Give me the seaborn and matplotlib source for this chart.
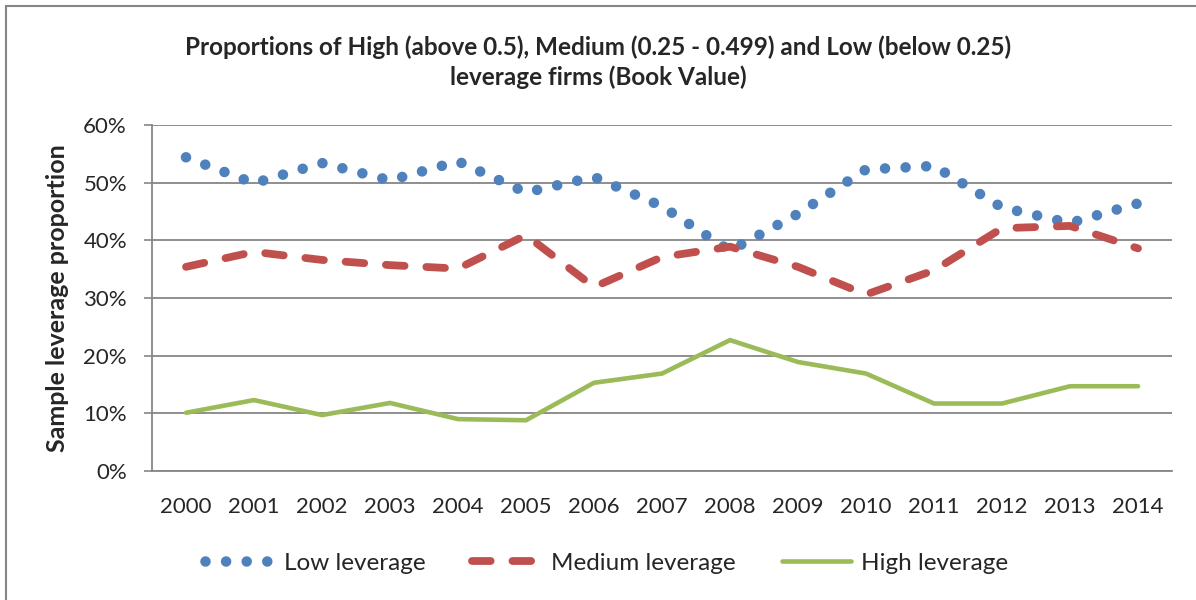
import numpy as np
import pandas as pd
import matplotlib
matplotlib.use("Agg")
import matplotlib.pyplot as plt
import matplotlib.patches as patches
import seaborn as sns

# values (percent of sample)
years = list(range(2000, 2015))
low_lev = [54.4, 49.9, 53.4, 50.4, 53.7, 48.3, 51.0, 45.9, 38.2, 44.6, 52.3, 52.9, 45.7, 43.0, 46.4]
medium_lev = [35.4, 38.0, 36.6, 35.7, 35.1, 40.9, 31.9, 37.1, 38.9, 35.4, 30.6, 34.8, 42.1, 42.5, 38.6]
high_lev = [10.1, 12.3, 9.7, 11.8, 9.0, 8.8, 15.3, 16.9, 22.7, 18.9, 16.9, 11.7, 11.7, 14.7, 14.7]
y_ticks = [0, 10, 20, 30, 40, 50, 60]

sns.set_style("white")
plt.rcParams['font.family'] = ['Lato', 'DejaVu Sans']

grey = "#868686"
fig = plt.figure(figsize=(11.96, 6.0), dpi=100)
ax = fig.add_axes([152/1196, 1 - 471/600, (1172-152)/1196, (471-125)/600])

sns.lineplot(x=years, y=low_lev, ax=ax, color="#4F81BD", lw=7.6,
             linestyle=(0, (0.001, 1.95)), dash_capstyle="round",
             label="Low leverage")
sns.lineplot(x=years, y=medium_lev, ax=ax, color="#C0504D", lw=5.6,
             linestyle=(0, (2.4, 2.8)), dash_capstyle="round",
             label="Medium leverage")
sns.lineplot(x=years, y=high_lev, ax=ax, color="#9BBB59", lw=3.3,
             solid_capstyle="round", solid_joinstyle="miter",
             label="High leverage")

ax.set_xlim(years[0] - 0.5, years[-1] + 0.5)
ax.set_ylim(0, 60)
ax.set_yticks(y_ticks)
ax.set_yticklabels([f"{v}%" for v in y_ticks], fontsize=16)
ax.set_xticks(years)
ax.set_xticklabels([str(y) for y in years], fontsize=16)
ax.set_xticks([y - 0.5 for y in years] + [years[-1] + 0.5], minor=True)
ax.tick_params(axis="x", which="major", length=0, pad=19)
ax.tick_params(axis="x", which="minor", length=7, width=1.2, color=grey)
ax.tick_params(axis="y", length=6, width=1.2, color=grey, pad=12, left=True)

ax.grid(axis="y", color=grey, lw=1.3)
ax.set_axisbelow(True)
for side in ["top", "right"]:
    ax.spines[side].set_visible(False)
for side in ["left", "bottom"]:
    ax.spines[side].set_color(grey)
    ax.spines[side].set_linewidth(1.3)

ax.set_xlabel("")
ax.set_ylabel("Sample leverage proportion", fontsize=18, fontweight="bold", labelpad=10)

fig.text(0.5, 1 - 62/600,
         "Proportions of High (above 0.5), Medium (0.25 - 0.499) and Low (below 0.25)\nleverage firms (Book Value)",
         ha="center", va="center", fontsize=17.5, fontweight="bold", linespacing=1.3)

handles, labels = ax.get_legend_handles_labels()
ax.get_legend().remove()
fig.legend(handles, labels, loc="center", bbox_to_anchor=(0.507, 1 - 563/600), ncol=3,
           frameon=False, fontsize=17.5, handlelength=2.85, handletextpad=0.4,
           columnspacing=1.9)

# chart area border
fig.add_artist(patches.Rectangle((6/1196, -0.1), 1.2, 1.1 - 6/600, transform=fig.transFigure,
                                 fill=False, edgecolor=grey, lw=1.5))

fig.savefig("out.png", dpi=100)
